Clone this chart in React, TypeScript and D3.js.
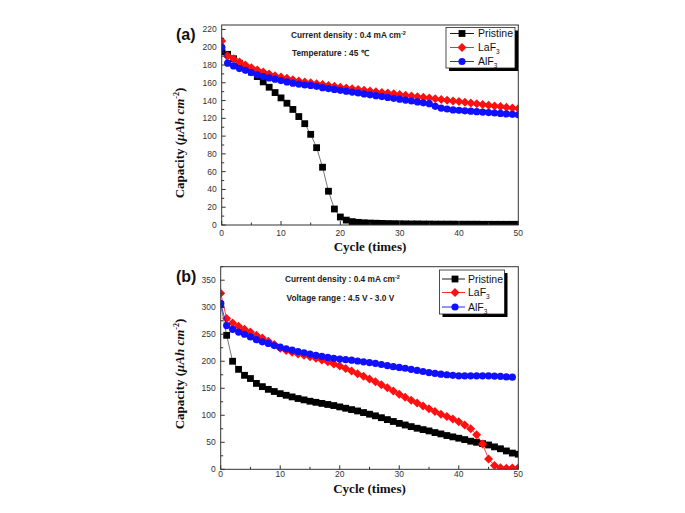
import React from "react";
import * as d3 from "d3";

// ---------- data ----------
const cycleTicks = [0, 10, 20, 30, 40, 50];
const capTicksA = [0, 20, 40, 60, 80, 100, 120, 140, 160, 180, 200, 220];
const capTicksB = [0, 50, 100, 150, 200, 250, 300, 350];

// Panel (a): 45 °C, cycles 0..50
const pristineA = [195, 192, 187, 182, 177, 172, 167, 161, 155, 149, 143, 137, 130, 122, 114, 102, 87, 65, 38, 18, 9, 5.5, 3.8, 3, 2.5, 2.2, 2, 1.8, 1.6, 1.5, 1.4, 1.3, 1.2, 1.2, 1.1, 1.1, 1, 1, 1, 1, 0.9, 0.9, 0.9, 0.9, 0.8, 0.8, 0.8, 0.8, 0.8, 0.8, 0.8];
const lafA = [207, 190, 187, 183.5, 180, 177, 174.5, 172, 170, 168, 166.5, 165, 163.5, 162, 161, 160, 159, 158, 157, 156, 155, 154, 153.2, 152.4, 151.6, 150.8, 150, 149.2, 148.4, 147.6, 146.8, 146, 145.2, 144.4, 143.6, 142.8, 142, 141.2, 140.4, 139.6, 138.8, 138, 137.2, 136.4, 135.6, 134.8, 134, 133.2, 132.4, 131.6, 131];
const alfA = [200, 182, 179, 176, 174, 171.5, 169, 167, 165.5, 164, 162.5, 161, 159.5, 158.5, 157.5, 157, 156, 154.5, 153.5, 152.5, 151.5, 150.5, 149.5, 148.5, 147.5, 146.5, 145.5, 144.5, 143.5, 142.5, 141.5, 140.5, 139.5, 138.5, 137.5, 136.5, 133.5, 131.5, 130.5, 129.5, 129, 128.5, 128, 127.5, 127, 126.5, 126, 125.5, 125, 124.5, 124];

// Panel (b): 4.5 V - 3.0 V
const pristineB = [305, 248, 200, 185, 174, 168, 159, 153, 148, 144, 140, 137, 134, 131, 128.5, 126, 124, 122, 120, 118, 115.5, 113, 110.5, 108, 105, 102, 99, 95.5, 92, 88.5, 85, 82, 79, 76, 73.5, 71, 68, 65.5, 62.5, 60, 57.5, 55, 52, 50, 47.5, 45, 41.5, 38, 34, 30, 28];
const lafB = [326, 279, 271, 265, 259, 254, 248, 243, 237, 231, 224, 220, 216.5, 213.5, 211, 208.5, 205.5, 202.5, 199, 195, 191, 186.5, 182, 177, 172, 167, 162, 156.5, 151, 145, 139, 133.5, 128, 122.5, 117, 112, 107, 102, 97.5, 93, 88, 82, 75, 64, 47, 19, 7, 3, 2, 2.5, 3];
const alfB = [307, 266, 259, 254, 250, 245, 240, 236, 233, 229, 226, 223, 220.5, 218, 215.5, 213, 211, 209, 207, 205.5, 204, 203, 202, 200.5, 199, 197.5, 196, 194, 192, 190, 188.5, 187, 185, 183, 181, 179, 177.5, 176, 175, 174, 173, 173, 173, 173, 173, 173, 172.5, 172, 171, 170.5];

const seriesNames = ["Pristine", "LaF", "AlF"];
const seriesColors = ["#000000", "#ff1010", "#1010ff"];
const lineColors = ["#555555", "#ff1010", "#1010ff"];

type Shape = "square" | "diamond" | "circle";
const shapes: Shape[] = ["square", "diamond", "circle"];

function Marker({ shape, x, y, color }: { shape: Shape; x: number; y: number; color: string }) {
  if (shape === "square") return <rect x={x - 3.4} y={y - 3.4} width={6.8} height={6.8} fill={color} />;
  if (shape === "diamond")
    return <path d={`M${x},${y - 4.5}L${x + 4.5},${y}L${x},${y + 4.5}L${x - 4.5},${y}Z`} fill={color} />;
  return <circle cx={x} cy={y} r={3.6} fill={color} />;
}

const tickFont = "Liberation Sans, Arial, sans-serif";
const serif = "Liberation Serif, Times New Roman, serif";

type PanelProps = {
  id: string;
  label: string;
  x0: number; x1: number; yTop: number; yBot: number;
  yMax: number; yTicks: number[]; yMinorStep: number;
  series: number[][];
  notes: { text: string; sup?: string; x: number; y: number }[];
  legend: { x: number; y: number; w: number; h: number; rows: number[]; lx0: number; lx1: number; mx: number; tx: number };
  yLabelX: number; yLabelY: number;
  xLabelY: number; xTickY: number;
  panelLabelY: number;
};

function Panel(p: PanelProps) {
  const xs = d3.scaleLinear().domain([0, 50]).range([p.x0, p.x1]);
  const ys = d3.scaleLinear().domain([0, p.yMax]).range([p.yBot, p.yTop]);
  const clipId = "clip" + p.id;
  const yMinor = d3.range(0, p.yMax + 0.001, p.yMinorStep);
  const xMinor = d3.range(0, 50.001, 5);
  const axisColor = "#333";
  return (
    <g>
      <defs>
        <clipPath id={clipId}>
          <rect x={p.x0} y={p.yTop} width={p.x1 - p.x0} height={p.yBot - p.yTop} />
        </clipPath>
      </defs>
      <g clipPath={`url(#${clipId})`}>
        {p.series.map((vals, si) => {
          const line = d3.line<number>().x((_, i) => xs(i)).y((v) => ys(v));
          return (
            <g key={si}>
              <path d={line(vals) || ""} fill="none" stroke={lineColors[si]} strokeWidth={0.8} />
              {vals.map((v, i) => (
                <Marker key={i} shape={shapes[si]} x={xs(i)} y={ys(v)} color={seriesColors[si]} />
              ))}
            </g>
          );
        })}
      </g>
      <rect x={p.x0} y={p.yTop} width={p.x1 - p.x0} height={p.yBot - p.yTop} fill="none" stroke={axisColor} strokeWidth={1} />
      {yMinor.map((v) => {
        const major = p.yTicks.includes(v);
        return <line key={"ym" + v} x1={p.x0} x2={p.x0 + (major ? 4 : 2.5)} y1={ys(v)} y2={ys(v)} stroke={axisColor} strokeWidth={1} />;
      })}
      {p.yTicks.map((v) => (
        <text key={"yt" + v} x={p.x0 - 5} y={ys(v) + 3} textAnchor="end" fontSize={8.5} fontFamily={tickFont} fill="#333">{v}</text>
      ))}
      {xMinor.map((v) => {
        const major = cycleTicks.includes(v);
        return <line key={"xm" + v} x1={xs(v)} x2={xs(v)} y1={p.yBot} y2={p.yBot - (major ? 4 : 2.5)} stroke={axisColor} strokeWidth={1} />;
      })}
      {cycleTicks.map((v) => (
        <text key={"xt" + v} x={xs(v)} y={p.xTickY} textAnchor="middle" fontSize={8.5} fontFamily={tickFont} fill="#333">{v}</text>
      ))}
      <text x={(p.x0 + p.x1) / 2} y={p.xLabelY} textAnchor="middle" fontSize={13} fontWeight="bold" fontFamily={serif} fill="#111">Cycle (times)</text>
      <text transform={`translate(${p.yLabelX},${p.yLabelY}) rotate(-90)`} textAnchor="middle" fontSize={13} fontWeight="bold" fontFamily={serif} fill="#111">
        Capacity (<tspan fontStyle="italic">μAh cm</tspan><tspan fontSize={8} dy={-5}>-2</tspan><tspan dy={5}>)</tspan>
      </text>
      <text x={176} y={p.panelLabelY} fontSize={16} fontWeight="bold" fontFamily={tickFont} fill="#111">{p.label}</text>
      {p.notes.map((n, i) => (
        <text key={i} x={n.x} y={n.y} fontSize={8.3} fontWeight="bold" fontFamily={tickFont} fill="#222">
          {n.text}
          {n.sup ? <tspan fontSize={5.5} dy={-3.5}>{n.sup}</tspan> : null}
        </text>
      ))}
      <rect x={p.legend.x + 3} y={p.legend.y + 3} width={p.legend.w} height={p.legend.h} fill="#000" />
      <rect x={p.legend.x} y={p.legend.y} width={p.legend.w} height={p.legend.h} fill="#fff" stroke="#222" strokeWidth={0.8} />
      {p.legend.rows.map((ry, si) => (
        <g key={"lg" + si}>
          <line x1={p.legend.lx0} x2={p.legend.lx1} y1={ry} y2={ry} stroke={si === 0 ? "#000" : seriesColors[si]} strokeWidth={0.9} />
          <Marker shape={shapes[si]} x={p.legend.mx} y={ry} color={seriesColors[si]} />
          <text x={p.legend.tx} y={ry + 3.8} fontSize={10.5} fontFamily={tickFont} fill="#111">
            {seriesNames[si]}
            {si > 0 ? <tspan fontSize={6.5} dy={3}>3</tspan> : null}
          </text>
        </g>
      ))}
    </g>
  );
}

export default function App() {
  return (
    <svg width={685} height={513} style={{ position: "absolute", left: 0, top: 0, background: "#fff" }}>
      <rect width={685} height={513} fill="#fff" />
      <Panel
        id="a"
        label="(a)"
        x0={221.7} x1={518.3} yTop={25} yBot={225}
        yMax={225} yTicks={capTicksA} yMinorStep={10}
        series={[pristineA, lafA, alfA]}
        notes={[
          { text: "Current density : 0.4 mA cm", sup: "-2", x: 291, y: 38 },
          { text: "Temperature : 45 ℃", x: 292, y: 56 },
        ]}
        legend={{ x: 446, y: 27.5, w: 69, h: 40.5, rows: [33.5, 47.5, 61.5], lx0: 450, lx1: 474, mx: 462, tx: 478 }}
        yLabelX={184} yLabelY={143}
        xLabelY={251} xTickY={236}
        panelLabelY={39.5}
      />
      <Panel
        id="b"
        label="(b)"
        x0={220.7} x1={518.3} yTop={266.7} yBot={469.3}
        yMax={375} yTicks={capTicksB} yMinorStep={25}
        series={[pristineB, lafB, alfB]}
        notes={[
          { text: "Current density : 0.4 mA cm", sup: "-2", x: 285, y: 282 },
          { text: "Voltage range : 4.5 V - 3.0 V", x: 286.5, y: 301 },
        ]}
        legend={{ x: 439.5, y: 270, w: 65, h: 44, rows: [279, 292.5, 307], lx0: 442, lx1: 465, mx: 455, tx: 468 }}
        yLabelX={184} yLabelY={374}
        xLabelY={493} xTickY={477}
        panelLabelY={282}
      />
    </svg>
  );
}
